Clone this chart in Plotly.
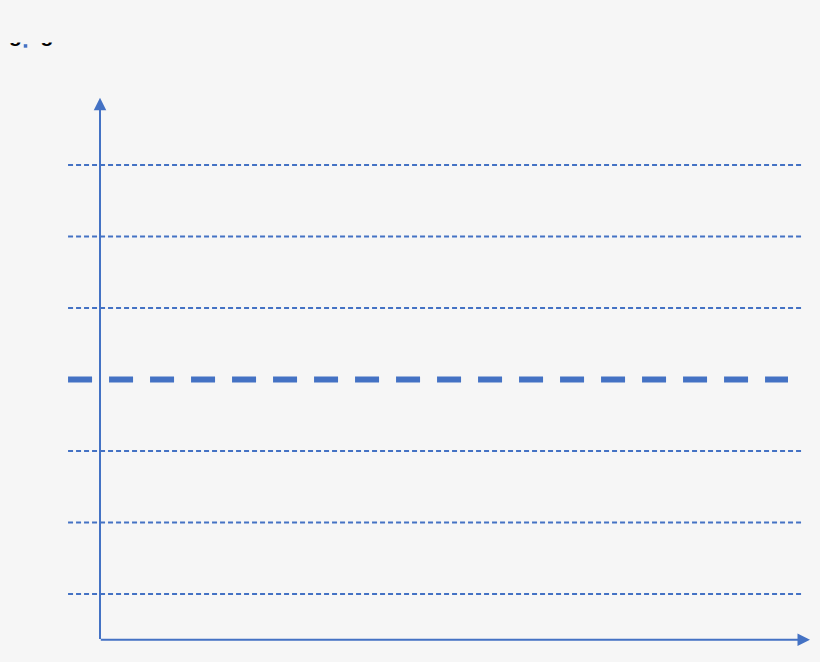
import plotly.graph_objects as go

# reference levels (horizontal dashed guides), the middle one is highlighted
levels = [1, 2, 3, 4, 5, 6, 7]
highlight = 4

# horizontal extent of the guides, in x units (y axis sits at x = 0)
guide_start, guide_end = -0.45, 9.89
highlight_end = 9.69

# axes: origin and arrow tips
y_origin, y_tip = 0.36, 7.94
x_tip = 10.0

# scraps of the clipped header text at the top left
header_chars = ["g", "g"]
header_x = [-1.19, -0.746]
header_y = 8.79
dot_x, dot_y = -1.049, 8.665

blue = "#4472C4"
bg = "#f6f6f6"

fig = go.Figure()

# thin dotted guides
for lv in levels:
    if lv == highlight:
        continue
    fig.add_trace(go.Scatter(
        x=[guide_start, guide_end], y=[lv, lv], mode="lines",
        line=dict(color=blue, width=1.8, dash="5px,3px"),
        hoverinfo="skip", showlegend=False,
    ))

# thick dashed highlighted level
fig.add_trace(go.Scatter(
    x=[guide_start, highlight_end], y=[highlight, highlight], mode="lines",
    line=dict(color=blue, width=6, dash="24px,17px"),
    hoverinfo="skip", showlegend=False,
))

# clipped header text (only the descenders show)
fig.add_trace(go.Scatter(
    x=header_x, y=[header_y] * len(header_x), mode="text",
    text=header_chars, textposition="middle center",
    textfont=dict(family="Liberation Sans", size=21, color="black", weight="bold"),
    hoverinfo="skip", showlegend=False,
))
fig.add_trace(go.Scatter(
    x=[dot_x], y=[dot_y], mode="markers",
    marker=dict(symbol="square", size=3.5, color=blue),
    hoverinfo="skip", showlegend=False,
))

# mask that hides the upper part of the header text
fig.add_shape(type="rect", xref="paper", yref="paper",
              x0=0, x1=0.1, y0=0.9358, y1=1.0,
              fillcolor=bg, line=dict(width=0), layer="above")

# axes as arrows
arrow = dict(showarrow=True, text="", axref="x", ayref="y", xref="x", yref="y",
             arrowhead=2, arrowsize=1.25, arrowwidth=2, arrowcolor=blue, standoff=0)
fig.add_annotation(x=0, y=y_tip, ax=0, ay=y_origin - 0.01, **arrow)
fig.add_annotation(x=x_tip, y=y_origin, ax=-0.01, ay=y_origin, **arrow)

fig.update_xaxes(range=[-100 / 71, 720 / 71], visible=False, fixedrange=True)
fig.update_yaxes(range=[1 - 68 / 71.5, 1 + 594 / 71.5], visible=False, fixedrange=True)

fig.update_layout(
    width=820, height=662,
    margin=dict(l=0, r=0, t=0, b=0),
    paper_bgcolor=bg, plot_bgcolor=bg,
    showlegend=False,
)

fig.write_html("out.html", config={"displayModeBar": False},
               post_script="document.body.style.margin='0';document.body.style.overflow='hidden';")
